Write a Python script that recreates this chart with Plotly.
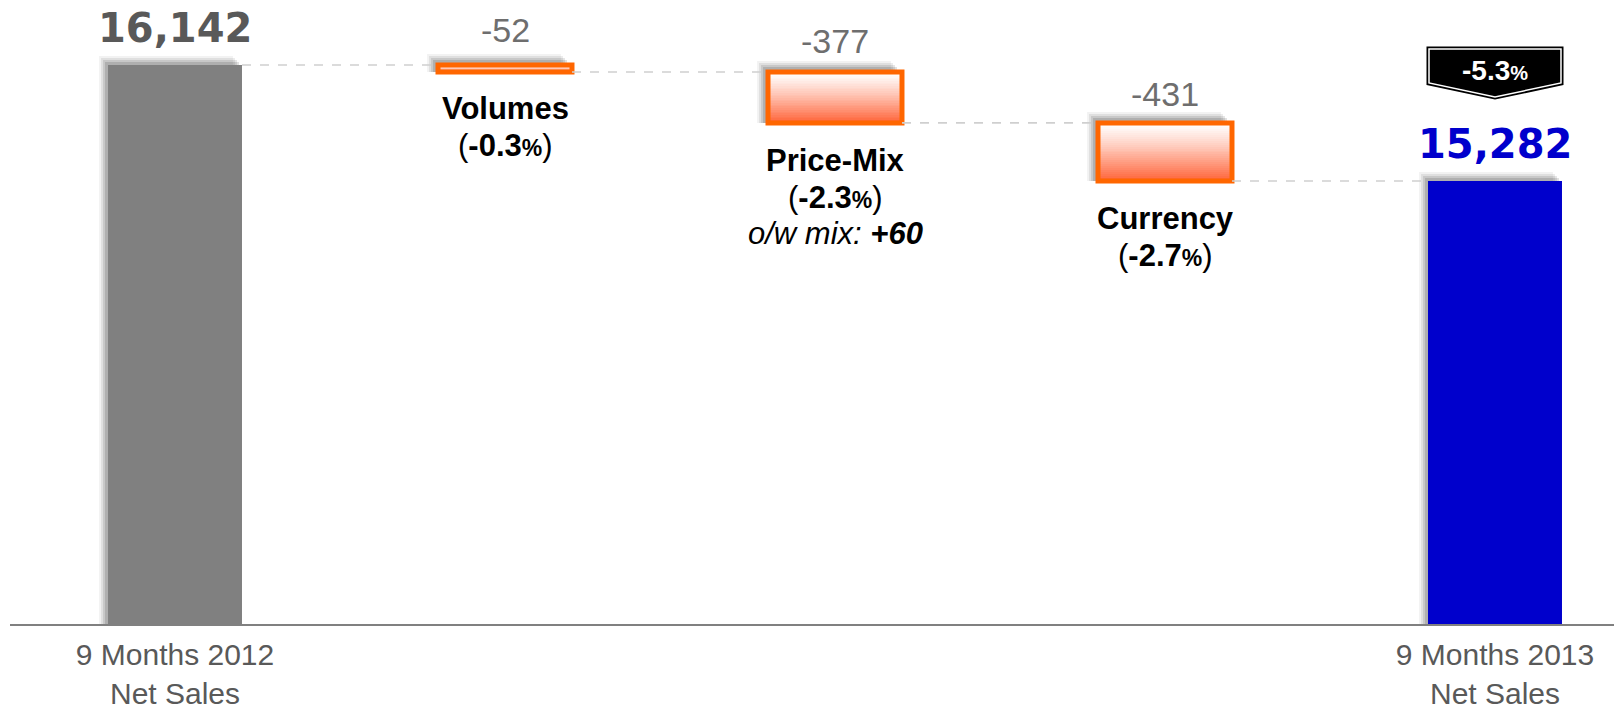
import plotly.graph_objects as go

# ---------------- data ----------------
categories = ["9 Months 2012<br>Net Sales", "Volumes", "Price-Mix", "Currency", "9 Months 2013<br>Net Sales"]
start_value = 16142
deltas = [-52, -377, -431]
end_value = 15282
delta_labels = ["-52", "-377", "-431"]
delta_pcts = ["-0.3", "-2.3", "-2.7"]
total_change_pct = "-5.3"
mix_note = "+60"
axis_min = 12000

# ---------------- derived ----------------
n = len(categories)
xs = list(range(n))
levels = [start_value]
for d in deltas:
    levels.append(levels[-1] + d)          # 16142, 16090, 15713, 15282
bases = levels[1:]                          # bottoms of the delta bars
heights = [abs(d) for d in deltas]

BW = 0.406
PX_PER_UNIT = 559 / 4142
PLOT_H = 624
y_top = axis_min + PLOT_H / PX_PER_UNIT
XPX = 330.0  # pixels per category

def u(px):  # pixels -> value units
    return px / PX_PER_UNIT

def py(p):  # pixel from top -> paper
    return 1 - p / PLOT_H

fig = go.Figure()

# ---- shadows (blur imitation) ----
for s, a in [(9, 0.05), (7, 0.08), (5, 0.10), (3, 0.12)]:
    fig.add_trace(go.Bar(x=[xs[0], xs[-1]], y=[start_value + u(s), end_value + u(s)],
                         width=BW, offset=-BW / 2 - s / XPX,
                         marker=dict(color=f"rgba(0,0,0,{a})", line=dict(width=0)),
                         hoverinfo="skip"))
    fig.add_trace(go.Bar(x=xs[1:4], y=[h + u(s + 2) for h in heights], base=bases,
                         width=BW, offset=-BW / 2 - (s + 2) / XPX,
                         marker=dict(color=f"rgba(0,0,0,{a})", line=dict(width=0)),
                         hoverinfo="skip"))

# ---- connectors ----
for i in range(n - 1):
    fig.add_trace(go.Scatter(x=[xs[i] + BW / 2, xs[i + 1] - BW / 2], y=[levels[i], levels[i]],
                             mode="lines", line=dict(color="#cfcfcf", width=1.6, dash="dash"),
                             hoverinfo="skip"))

# ---- total bars ----
fig.add_trace(go.Bar(x=[xs[0]], y=[start_value], width=BW,
                     marker=dict(color="#808080", line=dict(width=0))))
fig.add_trace(go.Bar(x=[xs[-1]], y=[end_value], width=BW,
                     marker=dict(color="#0000cc", line=dict(width=0))))

# ---- gradient fill of delta bars ----
NS = 30
bottom_rgb = (255, 96, 52)
for k in range(NS):
    t = (k + 0.5) / NS            # 0 bottom -> 1 top
    m = (1 - t) ** 1.2            # amount of orange
    col = tuple(int(round(255 + (c - 255) * m)) for c in bottom_rgb)
    fig.add_trace(go.Bar(x=xs[1:4], y=[h / NS for h in heights],
                         base=[b + h * k / NS for b, h in zip(bases, heights)],
                         width=BW, marker=dict(color=f"rgb{col}", line=dict(width=0)),
                         hoverinfo="skip"))

# ---- outlines ----
fig.add_trace(go.Bar(x=xs[1:4], y=heights, base=bases, width=BW,
                     marker=dict(color="rgba(0,0,0,0)", line=dict(color="#ff6600", width=5))))

# ---- annotations ----
ann = []
ann.append(dict(x=xs[0], y=py(28), text=f"{start_value:,}",
                font=dict(family="DejaVu Sans", size=40, color="#595959", weight="bold")))
ann.append(dict(x=xs[-1], y=py(144), text=f"{end_value:,}",
                font=dict(family="DejaVu Sans", size=40, color="#0000cc", weight="bold")))
for i, (lab, p) in enumerate(zip(delta_labels, [30, 41, 94])):
    ann.append(dict(x=xs[i + 1], y=py(p), text=lab,
                    font=dict(family="Liberation Sans", size=34, color="#6e6e6e")))

def pct(v):
    return f"(<b>{v}<span style='font-size:23px'>%</span></b>)"

LF = dict(family="Liberation Sans", size=31, color="#000000")
label_lines = [
    (xs[1], 108, f"<b>{categories[1]}</b>"),
    (xs[1], 145, pct(delta_pcts[0])),
    (xs[2], 161, f"<b>{categories[2]}</b>"),
    (xs[2], 197, pct(delta_pcts[1])),
    (xs[2], 233, f"<i>o/w mix: <b>{mix_note}</b></i>"),
    (xs[3], 218, f"<b>{categories[3]}</b>"),
    (xs[3], 255, pct(delta_pcts[2])),
]
for x, p, t in label_lines:
    ann.append(dict(x=x, y=py(p), text=t, font=LF))

ann.append(dict(x=xs[-1], y=py(70),
                text=f"<b>{total_change_pct}<span style='font-size:20px'>%</span></b>",
                font=dict(family="Liberation Sans", size=28, color="#ffffff")))
for a in ann:
    a.update(xref="x", yref="paper", showarrow=False, xanchor="center", yanchor="middle")

# ---- badge shape ----
bx0, bx1 = xs[-1] - 0.2, xs[-1] + 0.2
path = (f"M {bx0},{py(49)} L {bx1},{py(49)} L {bx1},{py(83)} "
        f"L {xs[-1]},{py(97)} L {bx0},{py(83)} Z")
shapes = [
    dict(type="path", path=path, xref="x", yref="paper", fillcolor="#000000",
         line=dict(color="#000000", width=5), layer="above"),
    dict(type="path", path=path, xref="x", yref="paper", fillcolor="#000000",
         line=dict(color="#ffffff", width=1.5), layer="above"),
]

fig.update_layout(
    width=1614, height=709,
    margin=dict(l=10, r=0, t=0, b=85),
    paper_bgcolor="white", plot_bgcolor="white",
    barmode="overlay", showlegend=False,
    annotations=ann, shapes=shapes,
    xaxis=dict(range=[-0.5, -0.5 + 1604 / XPX], tickvals=[xs[0], xs[-1]],
               ticktext=[categories[0], categories[-1]],
               tickfont=dict(family="Liberation Sans", size=30, color="#595959"),
               ticklabelstandoff=3,
               showline=True, linecolor="#808080", linewidth=2, showgrid=False,
               zeroline=False, ticks=""),
    yaxis=dict(range=[axis_min, y_top], visible=False),
)

fig.write_html("out.html", config={"displayModeBar": False},
               post_script="document.body.style.margin='0px';")
